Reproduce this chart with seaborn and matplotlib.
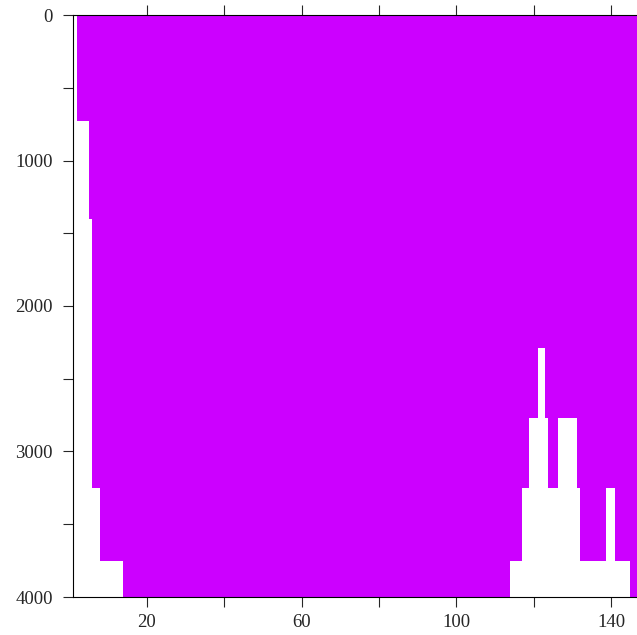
import matplotlib
matplotlib.use('Agg')
import matplotlib.pyplot as plt
import seaborn as sns
import numpy as np

# column edges along the section and bottom depth of each column
edges = [0, 2.0, 5.2, 6.0, 7.9, 14.0, 113.7, 116.8, 118.7, 121.1, 122.9,
         123.7, 126.1, 131.0, 131.8, 138.7, 140.9, 144.9, 148]
depths = [0, 730, 1400, 3250, 3750, 4000, 3750, 3250, 2770, 2290, 2770,
          3250, 2770, 3250, 3750, 3250, 3750, 4000]
xticks = [20, 40, 60, 80, 100, 120, 140]
xticklabels = ['20', '', '60', '', '100', '', '140']
yticks = [0, 500, 1000, 1500, 2000, 2500, 3000, 3500, 4000]
yticklabels = ['0', '', '1000', '', '2000', '', '3000', '', '4000']

sns.set_style('ticks')
plt.rcParams['font.family'] = ['Liberation Serif', 'DejaVu Serif']

fig = plt.figure(figsize=(6.37, 6.35), dpi=100)
ax = fig.add_axes([73 / 637, 1 - 597 / 635, 1 - 73 / 637, (597 - 15) / 635])

centers = [(a + b) / 2 for a, b in zip(edges[:-1], edges[1:])]
sns.histplot(x=centers, weights=depths, bins=edges, element='step', fill=True,
             color='#cc00ff', alpha=1, linewidth=0, ax=ax)

ax.set_xlim(1, 146.6)
ax.set_ylim(4000, 0)
ax.set_xticks(xticks)
ax.set_xticklabels(xticklabels)
ax.set_yticks(yticks)
ax.set_yticklabels(yticklabels)
ax.set_xlabel('')
ax.set_ylabel('')
ax.tick_params(axis='x', top=True, bottom=True, direction='out', length=7.5,
               width=0.8, labelsize=13.5, pad=5)
ax.tick_params(axis='y', left=True, direction='out', length=7.5, width=0.8,
               labelsize=13.5, pad=7)
for side in ['left', 'bottom', 'top']:
    ax.spines[side].set_visible(True)
    ax.spines[side].set_linewidth(0.8)
    ax.spines[side].set_color('black')
ax.spines['right'].set_visible(False)
ax.set_zorder(1)

fig.savefig('out.png', dpi=100)
